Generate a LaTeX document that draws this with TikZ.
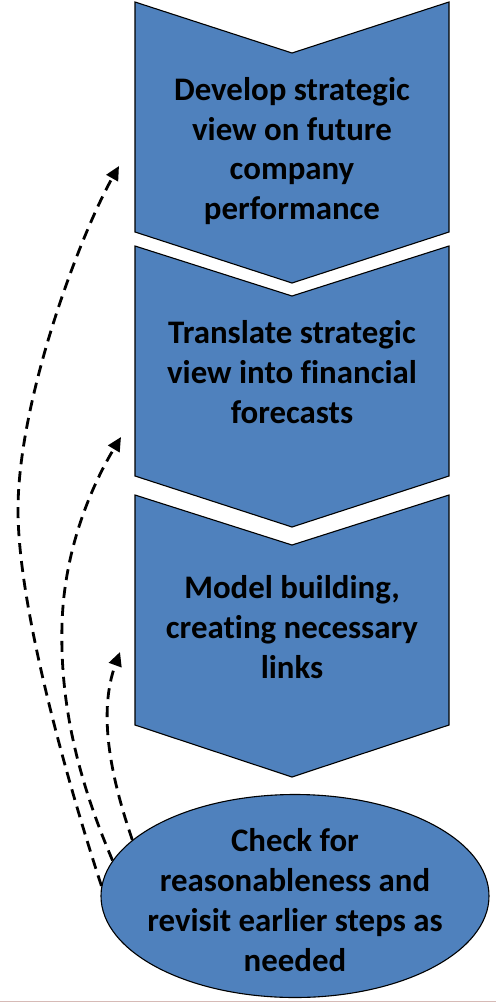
\documentclass[tikz,border=0pt]{standalone}
\usepackage{fontspec}
\setmainfont{Carlito}[Ligatures=NoCommon]
\usetikzlibrary{arrows.meta,shapes.geometric}
\definecolor{stepblue}{RGB}{79,129,189}
\definecolor{rose}{RGB}{214,186,182}
\tikzset{
  chev/.style={fill=stepblue,draw=black,line width=1.1bp},
  lbl/.style={align=center,font=\bfseries\fontsize{33}{40}\selectfont,inner sep=0pt},
  loop/.style={line width=2.8bp,dash pattern=on 11bp off 7bp,-{Triangle[length=14bp,width=13bp]}}
}
\begin{document}
\begin{tikzpicture}[x=1bp,y=-1bp]
\useasboundingbox (0,0) rectangle (496,1003);
% chevrons
\draw[chev] (135,2) -- (292,53) -- (449,2) -- (449,232) -- (292,283) -- (135,232) -- cycle;
\draw[chev] (135,246) -- (292,296) -- (449,246) -- (449,476) -- (292,527) -- (135,476) -- cycle;
\draw[chev] (135,495) -- (292,545) -- (449,495) -- (449,725) -- (292,777) -- (135,725) -- cycle;
\node[lbl] (c1) at (292,151) {Develop strategic\\view on future\\company\\performance};
\node[lbl] (c2) at (292,372) {Translate strategic\\view into financial\\forecasts};
\node[lbl] (c3) at (292,627) {Model building,\\creating necessary\\links};
% ellipse
\node[ellipse,fill=stepblue,draw=black,line width=1.1bp,minimum width=388bp,minimum height=203bp,inner sep=0pt] (e) at (295,896) {};
\node[lbl] (et) at (295,900) {Check for\\reasonableness and\\revisit earlier steps as\\needed};
% arrow targets
\coordinate (t1) at (119,166);
\coordinate (t2) at (121,437);
\coordinate (t3) at (120,652);
% feedback arrows
\draw[loop] (e.177) .. controls (70,790) and (18,610) .. (18,510)
            .. controls (18,400) and (80,235) .. (t1);
\draw[loop] (e.169) .. controls (76,775) and (60,700) .. (62,625)
            .. controls (64,545) and (95,480) .. (t2);
\draw[loop] (e.161) .. controls (110,775) and (98,712) .. (t3);
% bottom rule
\draw[rose,line width=1.5bp] (0,1001.5) -- (496,1001.5);
\end{tikzpicture}
\end{document}
